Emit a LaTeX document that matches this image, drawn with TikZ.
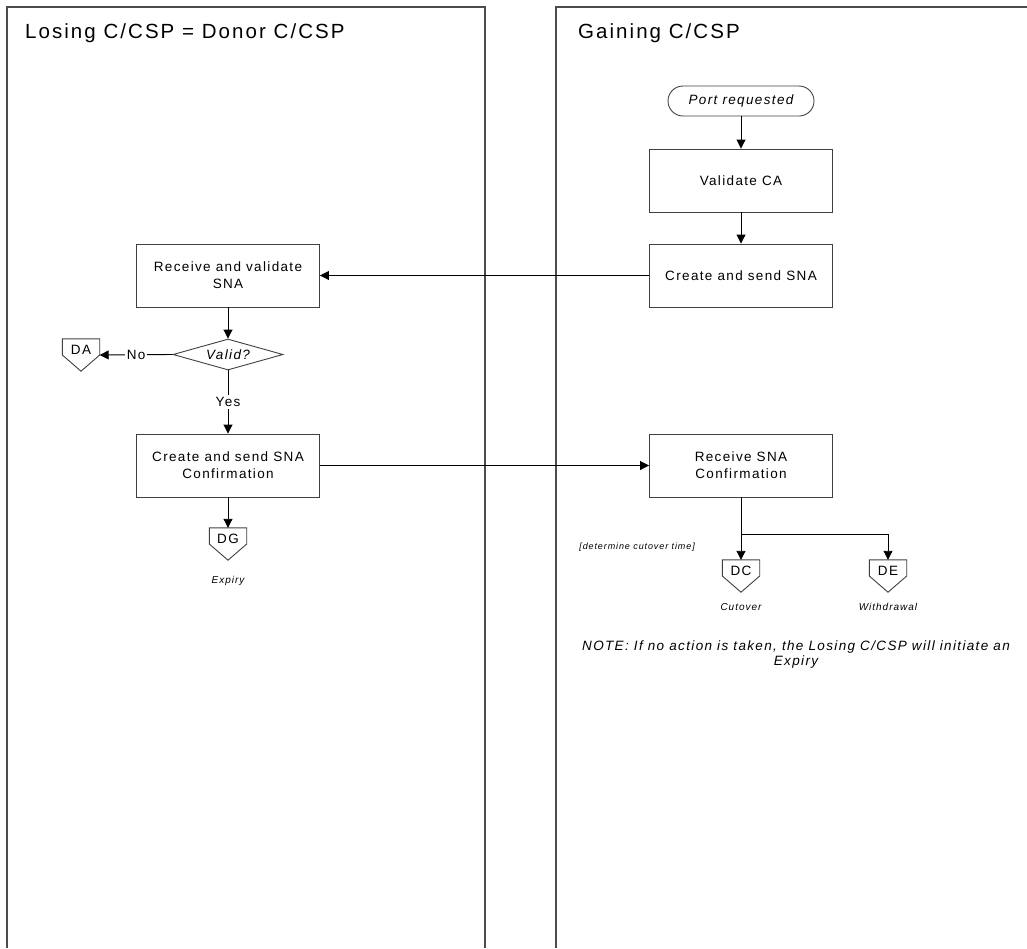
\documentclass[tikz,border=0pt]{standalone}
\usepackage{fontspec}
\setmainfont{Liberation Sans}[LetterSpace=10]
\usetikzlibrary{shapes.geometric,arrows.meta,calc}
\newcommand\boxfont{\fontsize{13.5}{17}\selectfont}
\newcommand\headfont{\fontsize{20.5}{24}\selectfont}
\newcommand\smallfont{\fontsize{10}{12}\selectfont\itshape}
\newcommand\notefont{\fontsize{13.5}{15}\selectfont\itshape}
\tikzset{
  lane/.style={draw=black!70, line width=1.2pt},
  proc/.style={draw=black!75, line width=0.9pt, minimum width=183pt, minimum height=63pt, align=center, font=\boxfont, inner sep=2pt},
  term/.style={draw=black!75, line width=0.9pt, rounded corners=15pt, minimum width=146pt, minimum height=30pt, font=\boxfont\itshape, inner sep=2pt},
  decis/.style={draw=black!75, line width=0.9pt, diamond, aspect=3.5, minimum width=110pt, minimum height=31pt, inner sep=0pt, font=\boxfont\itshape},
  ocon/.style={minimum width=37pt, minimum height=32pt, inner sep=0pt},
  ocontext/.style={font=\boxfont, inner sep=0pt},
  conn/.style={-{Triangle[length=9pt,width=9pt]}, line width=0.9pt},
  lbl/.style={font=\boxfont, fill=white, inner sep=2pt},
  small/.style={font=\smallfont, inner sep=0pt},
  head/.style={font=\headfont, anchor=west, inner sep=0pt}
}
\newcommand\pentagon[1]{\draw[draw=black!75, line width=0.9pt] (#1.north west) -- (#1.north east) -- (#1.east) -- (#1.south) -- (#1.west) -- cycle;}
\begin{document}
\begin{tikzpicture}[x=1pt,y=-1pt]
\useasboundingbox (0,0) rectangle (1027,948);
% lanes
\draw[lane] (7,948) -- (7,7) -- (485,7) -- (485,948);
\draw[lane] (556,948) -- (556,7) -- (1027,7);
\node[head] (h1) at (25,33) {Losing C/CSP = Donor C/CSP};
\node[head] (h2) at (578,33) {Gaining C/CSP};
% nodes
\node[term] (port) at (741,101) {Port requested};
\node[proc] (valca) at (741,180.5) {Validate CA};
\node[proc] (csna) at (741,275.5) {Create and send SNA};
\node[proc] (rvsna) at (228,275.5) {Receive and validate\\SNA};
\node[decis] (valid) at (228,354.5) {Valid?};
\node[ocon] (DA) at (81,355) {};
\pentagon{DA}
\node[ocontext] (DAt) at ($(DA.center)+(0,-5)$) {DA};
\node[proc] (cssc) at (228,465.5) {Create and send SNA\\Confirmation};
\node[proc] (rsc) at (741,465.5) {Receive SNA\\Confirmation};
\node[ocon] (DG) at (228,544) {};
\pentagon{DG}
\node[ocontext] (DGt) at ($(DG.center)+(0,-5)$) {DG};
\node[ocon] (DC) at (741,576) {};
\pentagon{DC}
\node[ocontext] (DCt) at ($(DC.center)+(0,-5)$) {DC};
\node[ocon] (DE) at (888,576) {};
\pentagon{DE}
\node[ocontext] (DEt) at ($(DE.center)+(0,-5)$) {DE};
% small labels
\node[small] (lexp) at (228,581) {Expiry};
\node[small] (lcut) at (741,607) {Cutover};
\node[small] (lwd) at (888,607) {Withdrawal};
\node[small, font=\fontsize{9}{11}\selectfont\itshape, anchor=east] (ldet) at (695,547) {[determine cutover time]};
\node[font=\notefont, align=center, inner sep=0pt] (note) at (796,654) {NOTE: If no action is taken, the Losing C/CSP will initiate an\\Expiry};
% connectors
\draw[conn] (port) -- (valca);
\draw[conn] (valca) -- (csna);
\draw[conn] (csna) -- (rvsna);
\draw[conn] (rvsna) -- (valid);
\draw[conn] (valid.west) -- node[lbl] (lno) {No} (DA.east);
\draw[conn] (valid.south) -- node[lbl] (lyes) {Yes} (cssc.north);
\draw[conn] (cssc) -- (rsc);
\draw[conn] (cssc) -- (DG);
\draw[conn] (rsc) -- (DC);
\coordinate (br) at (741,534);
\draw[conn] (br) -| (DE.north);
\end{tikzpicture}
\end{document}
